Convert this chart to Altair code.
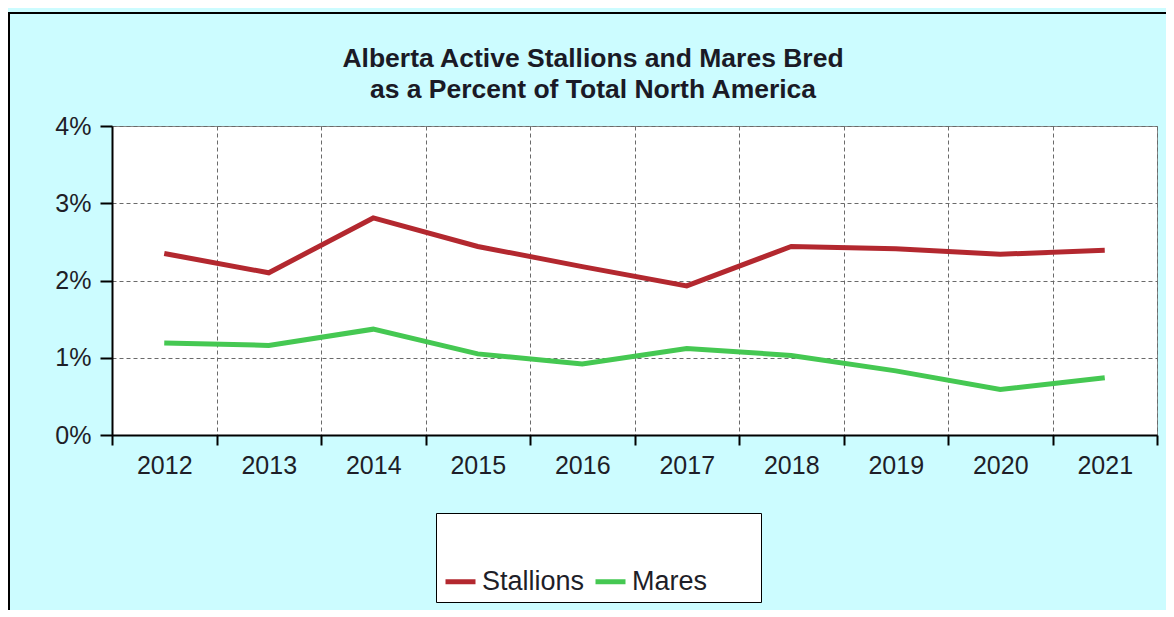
import altair as alt
import pandas as pd

years = ["2012", "2013", "2014", "2015", "2016", "2017", "2018", "2019", "2020", "2021"]
stallions = [2.35, 2.10, 2.81, 2.44, 2.18, 1.93, 2.44, 2.41, 2.34, 2.39]
mares = [1.19, 1.16, 1.37, 1.05, 0.92, 1.12, 1.03, 0.83, 0.59, 0.74]
series_names = ["Stallions", "Mares"]
series_colors = ["#B3282F", "#45C852"]
y_ticks = [0, 1, 2, 3, 4]
title_lines = ["Alberta Active Stallions and Mares Bred", "as a Percent of Total North America"]

rows = []
for name, vals in zip(series_names, [stallions, mares]):
    for yr, v in zip(years, vals):
        rows.append({"Year": yr, "Value": v, "Series": name})
df = pd.DataFrame(rows)

FONT = "Liberation Sans"

lines = alt.Chart(df).mark_line(strokeWidth=5).encode(
    x=alt.X("Year:N", sort=years, title=None,
            scale=alt.Scale(type="band", paddingInner=0, paddingOuter=0),
            axis=alt.Axis(tickBand="extent", labelAngle=0, tickSize=10, tickWidth=2,
                          tickColor="black", domainColor="black", domainWidth=2,
                          labelFontSize=25, labelFont=FONT, labelColor="#1e1e28",
                          labelPadding=8, grid=True, gridDash=[4, 3],
                          gridColor="#6a6a6a", gridWidth=1)),
    y=alt.Y("Value:Q", title=None,
            scale=alt.Scale(domain=[0, 4], nice=False),
            axis=alt.Axis(values=y_ticks, labelExpr="datum.value + '%'",
                          tickSize=12, tickWidth=2, tickColor="black",
                          domainColor="black", domainWidth=2,
                          labelFontSize=25, labelFont=FONT, labelColor="#1e1e28",
                          labelPadding=9, grid=True, gridDash=[4, 3],
                          gridColor="#6a6a6a", gridWidth=1)),
    color=alt.Color("Series:N",
                    scale=alt.Scale(domain=series_names, range=series_colors),
                    legend=alt.Legend(
                        orient="none", legendX=324, legendY=387,
                        direction="horizontal",
                        title="000000000000000.", titleFontSize=36, titleLimit=2000,
                        titleOpacity=0, titleFont=FONT,
                        titlePadding=8,
                        fillColor="white", strokeColor="black", padding=7,
                        symbolType="stroke", symbolSize=900, symbolStrokeWidth=5,
                        labelFontSize=27, labelFont=FONT, labelColor="#1e1e28",
                        labelOffset=4, columnPadding=0, labelLimit=400)),
)

frame = alt.Chart(alt.Data(values=[{}])).mark_rect(
    filled=False, stroke="black", strokeWidth=2
).encode(
    x=alt.value(-103), x2=alt.value(1200),
    y=alt.value(-113), y2=alt.value(560),
)

title = alt.Chart(alt.Data(values=[{}])).mark_text(
    font=FONT, fontSize=26.5, fontWeight="bold", color="#1a1a26",
    align="center", baseline="alphabetic", lineHeight=31,
).encode(
    x=alt.value(481), y=alt.value(-59), text=alt.value(title_lines),
)

chart = alt.layer(frame, lines, title).properties(
    width=1045,
    height=309,
    autosize=alt.AutoSizeParams(type="none"),
    padding={"left": 104, "top": 118, "right": 9, "bottom": 175},
    background="#CCFCFF",
).configure_view(
    stroke="#888888", fill="white"
)

chart.save("out.html", embed_options={"renderer": "svg", "actions": False})
